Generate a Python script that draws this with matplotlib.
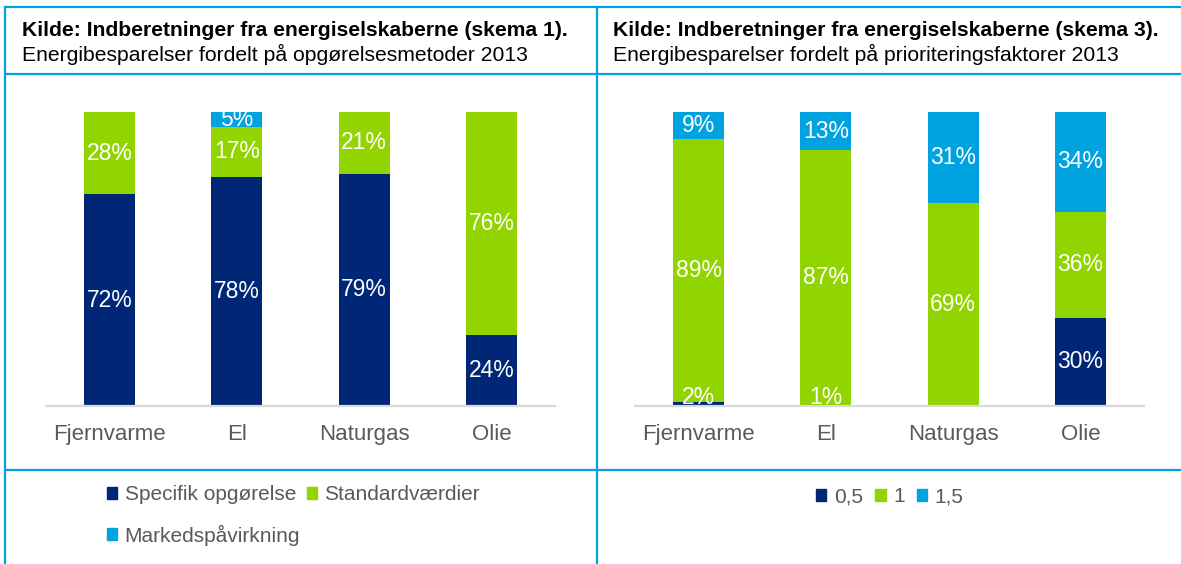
import matplotlib.pyplot as plt
import numpy as np
from matplotlib.lines import Line2D
from matplotlib.patches import Patch

plt.rcParams['font.family'] = ['Liberation Sans', 'DejaVu Sans']

# -------------------------------------------------------------------------
# data (percent of energy savings per supply type)
categories = ['Fjernvarme', 'El', 'Naturgas', 'Olie']

left_names = ['Specifik opgørelse', 'Standardværdier', 'Markedspåvirkning']
left_specifik = [72, 78, 79, 24]
left_standard = [28, 17, 21, 76]
left_marked = [0, 5, 0, 0]

right_names = ['0,5', '1', '1,5']
right_05 = [1.5, 0.51, 0, 30]
right_1 = [89, 87, 69, 36]
right_15 = [9, 13, 31, 34]

left_title = 'Kilde: Indberetninger fra energiselskaberne (skema 1).'
left_sub = 'Energibesparelser fordelt på opgørelsesmetoder 2013'
right_title = 'Kilde: Indberetninger fra energiselskaberne (skema 3).'
right_sub = 'Energibesparelser fordelt på prioriteringsfaktorer 2013'

colors = ['#002776', '#92D400', '#00A3E0']
frame_col = '#00A3E0'
W, H = 1181, 564


def stacked(ax, series):
    data = np.array(series, dtype=float)
    totals = data.sum(axis=0)
    shares = data / totals * 100  # 100% stacked
    x = np.arange(len(categories))
    bottom = np.zeros(len(categories))
    for i, (raw, h) in enumerate(zip(data, shares)):
        ax.bar(x, h, bottom=bottom, width=0.4, color=colors[i], linewidth=0)
        for j in range(len(x)):
            if raw[j] <= 0:
                continue
            y = bottom[j] + h[j] / 2
            if h[j] < 5:
                y = max(y, bottom[j] + 3.0)
            ax.text(x[j], y, f'{raw[j]:.0f}%', ha='center', va='center',
                    color='white', fontsize=16.5)
        bottom += h
    ax.set_xlim(-0.5, len(categories) - 0.5)
    ax.set_ylim(0, 100)
    ax.set_xticks(x)
    ax.set_xticklabels(categories, fontsize=16, color='#595959')
    ax.tick_params(axis='x', length=0, pad=13)
    ax.set_yticks([])
    for s in ['top', 'right', 'left']:
        ax.spines[s].set_visible(False)
    ax.spines['bottom'].set_color('#D9D9D9')
    ax.spines['bottom'].set_linewidth(1.6)


fig = plt.figure(figsize=(W / 100, H / 100), dpi=100)

ax1 = fig.add_axes([46 / W, (H - 406) / H, 509 / W, 294 / H])
stacked(ax1, [left_specifik, left_standard, left_marked])

ax2 = fig.add_axes([635 / W, (H - 406) / H, 509 / W, 294 / H])
stacked(ax2, [right_05, right_1, right_15])

# frame lines
def fline(x0, y0, x1, y1):
    fig.add_artist(Line2D([x0 / W, x1 / W], [1 - y0 / H, 1 - y1 / H],
                          color=frame_col, linewidth=1.6))

fline(5, 7, W, 7)
fline(5, 74, W, 74)
fline(5, 470, W, 470)
fline(5, 7, 5, H)
fline(597, 7, 597, H)

# headers
for x0, t, s in [(22, left_title, left_sub), (613, right_title, right_sub)]:
    fig.text(x0 / W, 1 - 30 / H, t, fontsize=15.2, fontweight='bold',
             va='center', ha='left')
    fig.text(x0 / W, 1 - 54 / H, s, fontsize=15.2, va='center', ha='left')

# legends
h_all = [Patch(color=c) for c in colors]
leg_kw = dict(frameon=False, fontsize=15, labelcolor='#595959',
              handlelength=0.5, handleheight=0.5, handletextpad=0.35,
              borderpad=0, borderaxespad=0)
fig.legend(h_all[:2], left_names[:2], loc='center left',
           bbox_to_anchor=(107 / W, 1 - 495 / H), ncol=2,
           columnspacing=0.5, **leg_kw)
fig.legend(h_all[2:], left_names[2:], loc='center left',
           bbox_to_anchor=(107 / W, 1 - 535 / H), **leg_kw)
fig.legend(h_all, right_names, loc='center left',
           bbox_to_anchor=(816 / W, 1 - 497 / H), ncol=3,
           columnspacing=0.6, **leg_kw)

fig.savefig('out.png', dpi=100)
